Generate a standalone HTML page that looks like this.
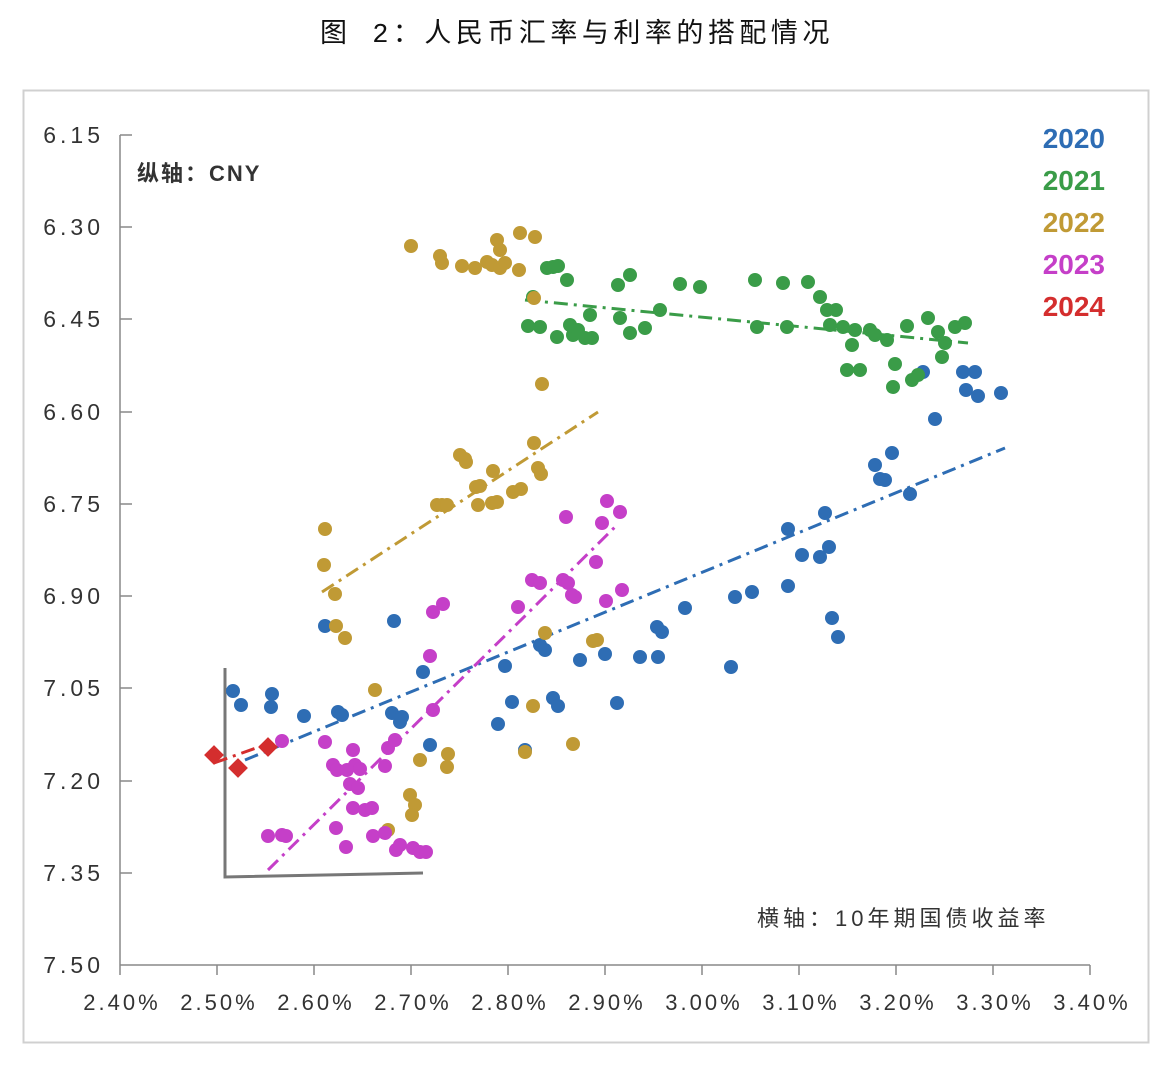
<!DOCTYPE html>
<html><head><meta charset="utf-8"><style>
body{margin:0;background:#fff;}
svg{display:block;font-family:"Liberation Sans","Noto Sans CJK SC",sans-serif;}
</style></head><body>
<svg width="1174" height="1066" xmlns="http://www.w3.org/2000/svg">
<text x="320" y="42" font-size="27" fill="#111" letter-spacing="4.5" font-family="Liberation Mono,Noto Sans CJK SC,monospace">图 2：人民币汇率与利率的搭配情况</text>
<rect x="23.5" y="90.5" width="1125" height="952" fill="none" stroke="#d0d0d0" stroke-width="2"/>
<g stroke="#888" stroke-width="1.5">
<line x1="120" y1="135" x2="120" y2="965"/><line x1="120" y1="965" x2="1090" y2="965"/>
<line x1="120" y1="135" x2="132" y2="135"/><line x1="120" y1="227" x2="132" y2="227"/><line x1="120" y1="319" x2="132" y2="319"/><line x1="120" y1="412" x2="132" y2="412"/><line x1="120" y1="504" x2="132" y2="504"/><line x1="120" y1="596" x2="132" y2="596"/><line x1="120" y1="688" x2="132" y2="688"/><line x1="120" y1="781" x2="132" y2="781"/><line x1="120" y1="873" x2="132" y2="873"/>
<line x1="217" y1="965" x2="217" y2="975"/><line x1="314" y1="965" x2="314" y2="975"/><line x1="411" y1="965" x2="411" y2="975"/><line x1="508" y1="965" x2="508" y2="975"/><line x1="605" y1="965" x2="605" y2="975"/><line x1="702" y1="965" x2="702" y2="975"/><line x1="799" y1="965" x2="799" y2="975"/><line x1="896" y1="965" x2="896" y2="975"/><line x1="993" y1="965" x2="993" y2="975"/><line x1="1090" y1="965" x2="1090" y2="975"/><line x1="120" y1="965" x2="120" y2="975"/>
</g>
<g font-size="23" fill="#333" text-anchor="end" letter-spacing="4">
<text x="104" y="143">6.15</text><text x="104" y="235">6.30</text><text x="104" y="327">6.45</text><text x="104" y="420">6.60</text><text x="104" y="512">6.75</text><text x="104" y="604">6.90</text><text x="104" y="696">7.05</text><text x="104" y="789">7.20</text><text x="104" y="881">7.35</text><text x="104" y="973">7.50</text>
</g>
<g font-size="22" fill="#333" text-anchor="middle" letter-spacing="3">
<text x="122" y="1010">2.40%</text><text x="219" y="1010">2.50%</text><text x="316" y="1010">2.60%</text><text x="413" y="1010">2.70%</text><text x="510" y="1010">2.80%</text><text x="607" y="1010">2.90%</text><text x="704" y="1010">3.00%</text><text x="801" y="1010">3.10%</text><text x="898" y="1010">3.20%</text><text x="995" y="1010">3.30%</text><text x="1092" y="1010">3.40%</text>
</g>
<text x="137" y="181" font-size="22" fill="#333" letter-spacing="2" font-weight="bold">纵轴：CNY</text>
<text x="757" y="926" font-size="22" fill="#333" letter-spacing="4">横轴：10年期国债收益率</text>
<g font-size="28" font-weight="bold" text-anchor="end">
<text x="1105" y="148" fill="#2e6db4">2020</text><text x="1105" y="190" fill="#3a9c48">2021</text><text x="1105" y="232" fill="#c09a35">2022</text><text x="1105" y="274" fill="#c53fc8">2023</text><text x="1105" y="316" fill="#d42e2e">2024</text>
</g>
<g stroke="#777" stroke-width="3" fill="none"><polyline points="225,668 225,877 423,873"/></g>
<g stroke-width="3" fill="none" stroke-dasharray="14,6,3,6">
<line x1="245" y1="760" x2="1005" y2="448" stroke="#2e6db4"/>
<line x1="525" y1="300" x2="968" y2="343" stroke="#3a9c48"/>
<line x1="322" y1="592" x2="598" y2="412" stroke="#c09a35"/>
<line x1="268" y1="870" x2="617" y2="525" stroke="#c53fc8"/>
<line x1="214" y1="763" x2="270" y2="743" stroke="#d42e2e"/>
</g>
<g fill="#2e6db4">
<circle cx="233" cy="691" r="7"/><circle cx="241" cy="705" r="7"/><circle cx="272" cy="694" r="7"/><circle cx="271" cy="707" r="7"/><circle cx="304" cy="716" r="7"/><circle cx="325" cy="626" r="7"/><circle cx="338" cy="712" r="7"/><circle cx="342" cy="715" r="7"/><circle cx="394" cy="621" r="7"/><circle cx="392" cy="713" r="7"/><circle cx="400" cy="722" r="7"/><circle cx="402" cy="717" r="7"/><circle cx="423" cy="672" r="7"/><circle cx="430" cy="745" r="7"/><circle cx="498" cy="724" r="7"/><circle cx="505" cy="666" r="7"/><circle cx="512" cy="702" r="7"/><circle cx="525" cy="750" r="7"/><circle cx="540" cy="645" r="7"/><circle cx="545" cy="650" r="7"/><circle cx="553" cy="698" r="7"/><circle cx="558" cy="706" r="7"/><circle cx="580" cy="660" r="7"/><circle cx="605" cy="654" r="7"/><circle cx="617" cy="703" r="7"/><circle cx="640" cy="657" r="7"/><circle cx="658" cy="657" r="7"/><circle cx="657" cy="627" r="7"/><circle cx="662" cy="632" r="7"/><circle cx="685" cy="608" r="7"/><circle cx="731" cy="667" r="7"/><circle cx="735" cy="597" r="7"/><circle cx="752" cy="592" r="7"/><circle cx="788" cy="586" r="7"/><circle cx="788" cy="529" r="7"/><circle cx="802" cy="555" r="7"/><circle cx="820" cy="557" r="7"/><circle cx="825" cy="513" r="7"/><circle cx="829" cy="547" r="7"/><circle cx="832" cy="618" r="7"/><circle cx="838" cy="637" r="7"/><circle cx="875" cy="465" r="7"/><circle cx="880" cy="479" r="7"/><circle cx="885" cy="480" r="7"/><circle cx="892" cy="453" r="7"/><circle cx="910" cy="494" r="7"/><circle cx="923" cy="372" r="7"/><circle cx="935" cy="419" r="7"/><circle cx="963" cy="372" r="7"/><circle cx="975" cy="372" r="7"/><circle cx="966" cy="390" r="7"/><circle cx="978" cy="396" r="7"/><circle cx="1001" cy="393" r="7"/>
</g>
<g fill="#3a9c48">
<circle cx="533" cy="297" r="7"/><circle cx="528" cy="326" r="7"/><circle cx="540" cy="327" r="7"/><circle cx="547" cy="268" r="7"/><circle cx="553" cy="267" r="7"/><circle cx="558" cy="266" r="7"/><circle cx="557" cy="337" r="7"/><circle cx="567" cy="280" r="7"/><circle cx="570" cy="325" r="7"/><circle cx="573" cy="335" r="7"/><circle cx="578" cy="330" r="7"/><circle cx="585" cy="338" r="7"/><circle cx="592" cy="338" r="7"/><circle cx="590" cy="315" r="7"/><circle cx="618" cy="285" r="7"/><circle cx="620" cy="318" r="7"/><circle cx="630" cy="275" r="7"/><circle cx="630" cy="333" r="7"/><circle cx="645" cy="328" r="7"/><circle cx="660" cy="310" r="7"/><circle cx="680" cy="284" r="7"/><circle cx="700" cy="287" r="7"/><circle cx="755" cy="280" r="7"/><circle cx="757" cy="327" r="7"/><circle cx="783" cy="283" r="7"/><circle cx="787" cy="327" r="7"/><circle cx="808" cy="282" r="7"/><circle cx="820" cy="297" r="7"/><circle cx="827" cy="310" r="7"/><circle cx="830" cy="325" r="7"/><circle cx="836" cy="310" r="7"/><circle cx="843" cy="327" r="7"/><circle cx="847" cy="370" r="7"/><circle cx="852" cy="345" r="7"/><circle cx="855" cy="330" r="7"/><circle cx="860" cy="370" r="7"/><circle cx="870" cy="330" r="7"/><circle cx="875" cy="335" r="7"/><circle cx="887" cy="340" r="7"/><circle cx="893" cy="387" r="7"/><circle cx="895" cy="364" r="7"/><circle cx="907" cy="326" r="7"/><circle cx="912" cy="380" r="7"/><circle cx="918" cy="375" r="7"/><circle cx="928" cy="318" r="7"/><circle cx="938" cy="332" r="7"/><circle cx="942" cy="357" r="7"/><circle cx="945" cy="343" r="7"/><circle cx="955" cy="327" r="7"/><circle cx="965" cy="323" r="7"/>
</g>
<g fill="#c09a35">
<circle cx="411" cy="246" r="7"/><circle cx="440" cy="256" r="7"/><circle cx="442" cy="263" r="7"/><circle cx="462" cy="266" r="7"/><circle cx="475" cy="268" r="7"/><circle cx="487" cy="262" r="7"/><circle cx="492" cy="265" r="7"/><circle cx="497" cy="240" r="7"/><circle cx="500" cy="250" r="7"/><circle cx="505" cy="263" r="7"/><circle cx="500" cy="268" r="7"/><circle cx="520" cy="233" r="7"/><circle cx="519" cy="270" r="7"/><circle cx="535" cy="237" r="7"/><circle cx="534" cy="298" r="7"/><circle cx="542" cy="384" r="7"/><circle cx="534" cy="443" r="7"/><circle cx="538" cy="468" r="7"/><circle cx="541" cy="474" r="7"/><circle cx="460" cy="455" r="7"/><circle cx="465" cy="459" r="7"/><circle cx="466" cy="462" r="7"/><circle cx="476" cy="487" r="7"/><circle cx="480" cy="486" r="7"/><circle cx="493" cy="471" r="7"/><circle cx="437" cy="505" r="7"/><circle cx="442" cy="505" r="7"/><circle cx="447" cy="505" r="7"/><circle cx="478" cy="505" r="7"/><circle cx="492" cy="503" r="7"/><circle cx="497" cy="502" r="7"/><circle cx="513" cy="492" r="7"/><circle cx="521" cy="489" r="7"/><circle cx="324" cy="565" r="7"/><circle cx="325" cy="529" r="7"/><circle cx="335" cy="594" r="7"/><circle cx="336" cy="626" r="7"/><circle cx="345" cy="638" r="7"/><circle cx="375" cy="690" r="7"/><circle cx="388" cy="830" r="7"/><circle cx="410" cy="795" r="7"/><circle cx="415" cy="805" r="7"/><circle cx="412" cy="815" r="7"/><circle cx="420" cy="760" r="7"/><circle cx="448" cy="754" r="7"/><circle cx="447" cy="767" r="7"/><circle cx="525" cy="752" r="7"/><circle cx="533" cy="706" r="7"/><circle cx="545" cy="633" r="7"/><circle cx="573" cy="744" r="7"/><circle cx="593" cy="641" r="7"/><circle cx="597" cy="640" r="7"/>
</g>
<g fill="#c53fc8">
<circle cx="268" cy="836" r="7"/><circle cx="282" cy="835" r="7"/><circle cx="286" cy="836" r="7"/><circle cx="282" cy="741" r="7"/><circle cx="325" cy="742" r="7"/><circle cx="336" cy="828" r="7"/><circle cx="346" cy="847" r="7"/><circle cx="333" cy="765" r="7"/><circle cx="337" cy="770" r="7"/><circle cx="347" cy="770" r="7"/><circle cx="350" cy="784" r="7"/><circle cx="353" cy="750" r="7"/><circle cx="355" cy="765" r="7"/><circle cx="360" cy="769" r="7"/><circle cx="358" cy="788" r="7"/><circle cx="353" cy="808" r="7"/><circle cx="365" cy="810" r="7"/><circle cx="372" cy="808" r="7"/><circle cx="373" cy="836" r="7"/><circle cx="385" cy="766" r="7"/><circle cx="385" cy="833" r="7"/><circle cx="388" cy="748" r="7"/><circle cx="395" cy="740" r="7"/><circle cx="396" cy="850" r="7"/><circle cx="400" cy="845" r="7"/><circle cx="413" cy="848" r="7"/><circle cx="420" cy="852" r="7"/><circle cx="426" cy="852" r="7"/><circle cx="433" cy="612" r="7"/><circle cx="430" cy="656" r="7"/><circle cx="433" cy="710" r="7"/><circle cx="443" cy="604" r="7"/><circle cx="518" cy="607" r="7"/><circle cx="532" cy="580" r="7"/><circle cx="540" cy="583" r="7"/><circle cx="563" cy="580" r="7"/><circle cx="568" cy="583" r="7"/><circle cx="572" cy="595" r="7"/><circle cx="566" cy="517" r="7"/><circle cx="575" cy="597" r="7"/><circle cx="596" cy="562" r="7"/><circle cx="607" cy="501" r="7"/><circle cx="606" cy="601" r="7"/><circle cx="602" cy="523" r="7"/><circle cx="620" cy="512" r="7"/><circle cx="622" cy="590" r="7"/>
</g>
<g fill="#d42e2e">
<rect x="207" y="748" width="14" height="14" transform="rotate(45 214 755)"/>
<rect x="231" y="761" width="14" height="14" transform="rotate(45 238 768)"/>
<rect x="261" y="740" width="14" height="14" transform="rotate(45 268 747)"/>
</g>
</svg>
</body></html>
